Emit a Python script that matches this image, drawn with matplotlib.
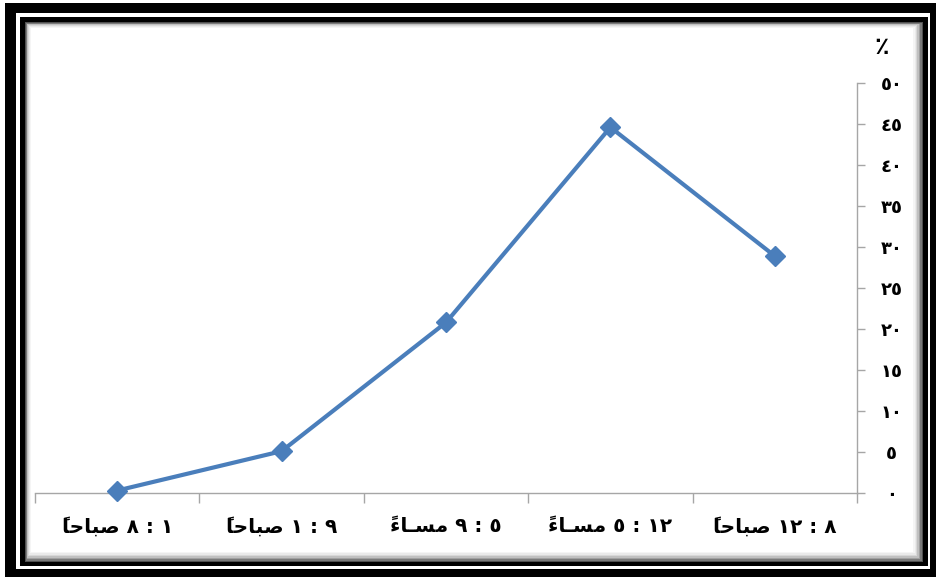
import matplotlib
matplotlib.use("Agg")
import matplotlib.pyplot as plt
from matplotlib.patches import Rectangle

# data (left to right as drawn)
time_ranges = ["٨ : ١", "١ : ٩", "٩ : ٥", "٥ : ١٢", "١٢ : ٨"]
periods = ["sabah", "sabah", "masa", "masa", "sabah"]
percent = [0.3, 5.1, 20.8, 44.6, 28.9]
y_ticks = [0, 5, 10, 15, 20, 25, 30, 35, 40, 45, 50]

# arabic words already shaped and in visual (left to right) order,
# matplotlib does no shaping itself. tanwin goes before its base here
words = {
    "sabah": "\u064B\uFE8E\uFEA3\uFE8E\uFE92\uFEBB",   # صباحاً
    "masa": "\u064B\uFE80\uFE8E\u0640\uFEB4\uFEE3",    # مساءً
}
to_arabic = str.maketrans("0123456789", "٠١٢٣٤٥٦٧٨٩")

labels = [words[p] + " " + t for p, t in zip(periods, time_ranges)]

plt.rcParams['font.family'] = ['DejaVu Sans']

W, H = 936, 580
fig = plt.figure(figsize=(W / 100, H / 100), dpi=100)

# frame drawn in pixel coords
bg = fig.add_axes([0, 0, 1, 1])
bg.set_xlim(0, W)
bg.set_ylim(H, 0)
bg.axis('off')

def box(x0, y0, x1, y1, color):
    bg.add_patch(Rectangle((x0, y0), x1 - x0, y1 - y0, facecolor=color, edgecolor='none'))

box(5, 3, 936, 577, 'black')
box(16, 13, 930, 569, 'white')
box(20, 17, 928, 566, 'black')
# soft shadow inside the inner frame
grays = ['#505050', '#7a7a7a', '#a0a0a0', '#c0c0c0', '#d8d8d8', '#eaeaea', '#f5f5f5']
for i, g in enumerate(grays):
    box(25 + i * 0.8, 22 + i * 0.8, 923 - i * 1.4, 562 - i * 1.5, g)
box(25 + len(grays) * 0.8, 22 + len(grays) * 0.8, 923 - len(grays) * 1.4, 562 - len(grays) * 1.5, 'white')

# main chart
left, right = 35 / W, 857 / W
bottom, top = (H - 493) / H, (H - 83) / H
ax = fig.add_axes([left, bottom, right - left, top - bottom])
ax.set_facecolor('none')

x = list(range(len(percent)))
ax.plot(x, percent, color='#4a7ebb', linewidth=3, marker='D',
        markersize=10, markeredgecolor='#4a7ebb', zorder=3, clip_on=False)

ax.set_xlim(-0.5, len(percent) - 0.5)
ax.set_ylim(0, 50)

for s in ['top', 'left']:
    ax.spines[s].set_visible(False)
for s in ['bottom', 'right']:
    ax.spines[s].set_color('#a6a6a6')
    ax.spines[s].set_linewidth(1)

# x axis: ticks between categories, labels at centres
ax.set_xticks([i - 0.5 for i in range(len(percent) + 1)])
ax.set_xticklabels([])
ax.set_xticks(x, minor=True)
ax.set_xticklabels(labels, minor=True, fontsize=14.5, fontweight='bold')
ax.tick_params(axis='x', which='major', direction='out', length=7, color='#a6a6a6', width=1)
ax.tick_params(axis='x', which='minor', length=0, pad=17)

# y axis on the right
ax.yaxis.tick_right()
ax.set_yticks(y_ticks)
ax.set_yticklabels([str(v).translate(to_arabic) for v in y_ticks],
                   fontsize=13, fontweight='bold')
ax.tick_params(axis='y', direction='out', length=6, color='#a6a6a6', width=1, pad=19)
for lab in ax.get_yticklabels():
    lab.set_horizontalalignment('center')

fig.text(882 / W, 1 - 47 / H, "٪", fontsize=17, fontweight='bold', ha='center', va='center')

fig.savefig("out.png", dpi=100)
